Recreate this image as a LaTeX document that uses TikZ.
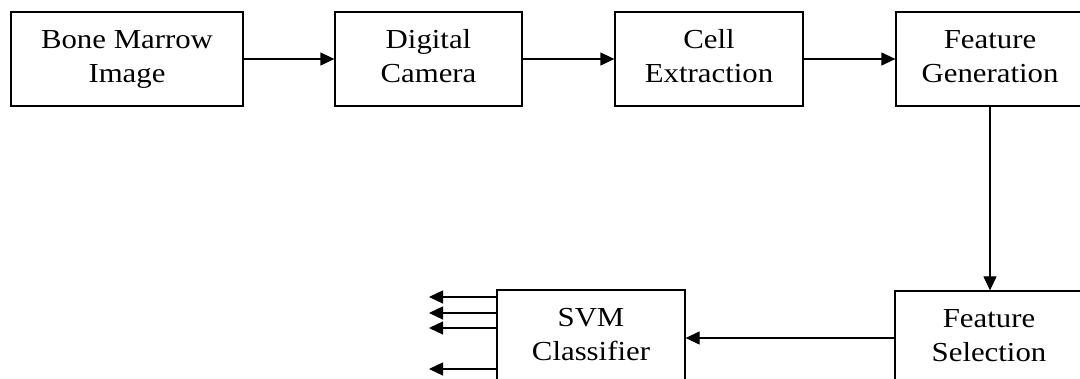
\documentclass[tikz,border=0pt]{standalone}
\usepackage{fontspec}
\setmainfont{Liberation Serif}[FakeStretch=1.12]
\usetikzlibrary{arrows.meta}
\begin{document}
\begin{tikzpicture}[x=1pt,y=-1pt,
  box/.style={draw, line width=1.3pt, minimum height=94pt, align=center, inner sep=0pt,
    font=\fontsize{27.5}{34}\selectfont},
  arr/.style={line width=1.3pt, -{Triangle[length=14pt,width=13pt]}}]
\useasboundingbox (0,0) rectangle (1080,379);
\clip (0,0) rectangle (1080,379);
\node[box, minimum width=232pt] (bm) at (127,59) {Bone Marrow\strut\\Image\strut};
\node[box, minimum width=187pt] (dc) at (428.5,59) {Digital\strut\\Camera\strut};
\node[box, minimum width=188pt] (ce) at (709,59) {Cell\strut\\Extraction\strut};
\node[box, minimum width=188pt] (fg) at (990,59) {Feature\strut\\Generation\strut};
\node[box, minimum width=188pt] (fs) at (989,338) {Feature\strut\\Selection\strut};
\node[box, minimum width=188pt] (svm) at (591,337) {SVM\strut\\Classifier\strut};
\draw[arr] (bm.east) -- (dc.west);
\draw[arr] (dc.east) -- (ce.west);
\draw[arr] (ce.east) -- (fg.west);
\draw[arr] (fg.south) -- (fg.south |- fs.north);
\draw[arr] (fs.west) -- (svm.east |- fs.west);
\coordinate (o1) at (429,297);
\coordinate (o2) at (429,313);
\coordinate (o3) at (429,328);
\coordinate (o4) at (429,369);
\draw[arr] (svm.west |- o1) -- (o1);
\draw[arr] (svm.west |- o2) -- (o2);
\draw[arr] (svm.west |- o3) -- (o3);
\draw[arr] (svm.west |- o4) -- (o4);
\end{tikzpicture}
\end{document}
